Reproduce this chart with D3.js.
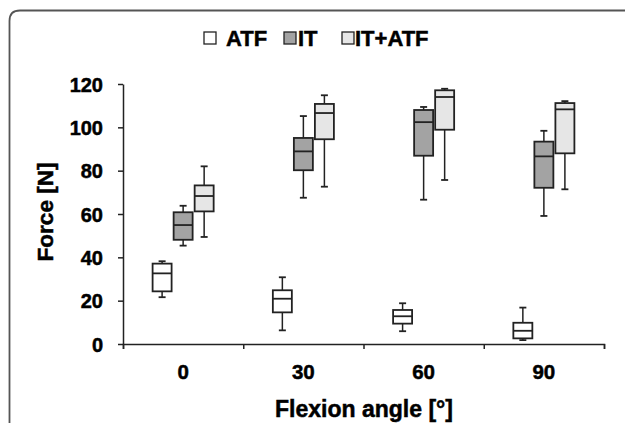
<!DOCTYPE html>
<html>
<head>
<meta charset="utf-8">
<script src="https://cdn.jsdelivr.net/npm/d3@7"></script>
<style>
  body { margin: 0; background: #fff; }
  svg text { font-family: "Liberation Sans", Arial, sans-serif; font-weight: bold; fill: #000; stroke: #000; stroke-width: 0.5px; }
</style>
</head>
<body>
<script>
// categories and series
const angles = ["0", "30", "60", "90"];
const series = ["ATF", "IT", "IT+ATF"];
const yTicks = [0, 20, 40, 60, 80, 100, 120];

// box stats per series, in angle order: [min, q1, median, q3, max]
const atfBoxes = [
  [21.6, 24.3, 32.6, 37.1, 38.2],
  [6.3, 14.6, 20.9, 24.8, 30.8],
  [5.9, 9.4, 12.8, 15.7, 18.8],
  [1.8, 2.6, 6.1, 9.8, 16.8]
];
const itBoxes = [
  [45.4, 48.1, 54.9, 60.8, 63.8],
  [67.5, 80.2, 88.9, 95.1, 105.2],
  [66.6, 86.9, 102.4, 108.0, 109.4],
  [59.1, 72.1, 86.6, 93.4, 98.4]
];
const itAtfBoxes = [
  [49.4, 61.2, 68.3, 73.2, 82.0],
  [72.6, 94.5, 106.6, 110.8, 114.8],
  [75.7, 98.9, 114.0, 117.1, 117.8],
  [71.4, 88.0, 108.3, 111.2, 112.1]
];
const fills = ["#ffffff", "#a3a3a3", "#e6e6e6"];

const W = 625, H = 423;
const svg = d3.select("body").append("svg")
  .attr("width", W).attr("height", H);

// outer frame with rounded top-left corner
svg.append("path")
  .attr("d", "M9.5,423 V21 Q9.5,10.5 20,10.5 H625")
  .attr("fill", "none")
  .attr("stroke", "#555")
  .attr("stroke-width", 1.8);

const x = d3.scaleBand().domain(angles).range([123, 604]);
const sub = d3.scaleBand().domain(series).range([0, x.bandwidth()])
  .paddingInner(0).paddingOuter(1.36);
const y = d3.scaleLinear().domain([0, 120]).range([344, 84]);

const boxW = 19;
const capW = 7;

const table = [];
angles.forEach((a, i) => {
  [atfBoxes, itBoxes, itAtfBoxes].forEach((arr, j) => {
    const s = arr[i];
    table.push({angle: a, series: series[j], min: s[0], q1: s[1], med: s[2], q3: s[3], max: s[4], fill: fills[j]});
  });
});

const g = svg.selectAll("g.box")
  .data(table)
  .enter()
  .append("g")
  .attr("class", "box")
  .attr("transform", d => "translate(" + (x(d.angle) + sub(d.series) + sub.bandwidth() / 2) + ",0)");

// whiskers
g.append("line")
  .attr("x1", 0).attr("x2", 0)
  .attr("y1", d => y(d.max)).attr("y2", d => y(d.q3))
  .attr("stroke", "#222").attr("stroke-width", 1.5);
g.append("line")
  .attr("x1", 0).attr("x2", 0)
  .attr("y1", d => y(d.q1)).attr("y2", d => y(d.min))
  .attr("stroke", "#222").attr("stroke-width", 1.5);
g.append("line")
  .attr("x1", -capW / 2).attr("x2", capW / 2)
  .attr("y1", d => y(d.max)).attr("y2", d => y(d.max))
  .attr("stroke", "#222").attr("stroke-width", 1.8);
g.append("line")
  .attr("x1", -capW / 2).attr("x2", capW / 2)
  .attr("y1", d => y(d.min)).attr("y2", d => y(d.min))
  .attr("stroke", "#222").attr("stroke-width", 1.8);

// box
g.append("rect")
  .attr("x", -boxW / 2)
  .attr("width", boxW)
  .attr("y", d => y(d.q3))
  .attr("height", d => y(d.q1) - y(d.q3))
  .attr("fill", d => d.fill)
  .attr("stroke", "#222")
  .attr("stroke-width", 1.8);
g.append("line")
  .attr("x1", -boxW / 2).attr("x2", boxW / 2)
  .attr("y1", d => y(d.med)).attr("y2", d => y(d.med))
  .attr("stroke", "#222").attr("stroke-width", 1.8);

// y axis
const yAxis = svg.append("g")
  .attr("transform", "translate(123,0)")
  .call(d3.axisLeft(y).tickValues(yTicks).tickSize(5).tickSizeOuter(0).tickPadding(15));
yAxis.selectAll("text").style("font-size", "20px").attr("dy", "0.36em").attr("fill", "#000");

// x axis: boundary ticks + centred labels
const xb = d3.scaleLinear().domain([0, 4]).range([123, 604]);
svg.append("g")
  .attr("transform", "translate(0,344)")
  .call(d3.axisBottom(xb).ticks(4).tickFormat("").tickSize(5).tickSizeOuter(5));
svg.append("g")
  .attr("transform", "translate(0,344)")
  .call(d3.axisBottom(x).tickSize(0).tickPadding(20))
  .call(s => s.select(".domain").remove())
  .selectAll("text").style("font-size", "20.5px").attr("fill", "#000");

svg.selectAll(".domain, .tick line").attr("stroke", "#222").attr("stroke-width", 1.5);

// axis titles
svg.append("text")
  .attr("transform", "translate(53,212) rotate(-90)")
  .attr("text-anchor", "middle")
  .style("font-size", "22.5px")
  .text("Force [N]");
svg.append("text")
  .attr("x", 364).attr("y", 417)
  .attr("text-anchor", "middle")
  .style("font-size", "23px")
  .text("Flexion angle [°]");

// legend
const legendX = [204, 284, 342];
const legendTextX = [226, 298, 355];
const lg = svg.selectAll("g.legend")
  .data(series)
  .enter()
  .append("g")
  .attr("class", "legend");
lg.append("rect")
  .attr("x", (d, i) => legendX[i])
  .attr("y", 32)
  .attr("width", 12).attr("height", 12)
  .attr("fill", (d, i) => fills[i])
  .attr("stroke", "#222").attr("stroke-width", 1.3);
lg.append("text")
  .attr("x", (d, i) => legendTextX[i])
  .attr("y", 45.5)
  .style("font-size", "22px")
  .text(d => d);
</script>
</body>
</html>
